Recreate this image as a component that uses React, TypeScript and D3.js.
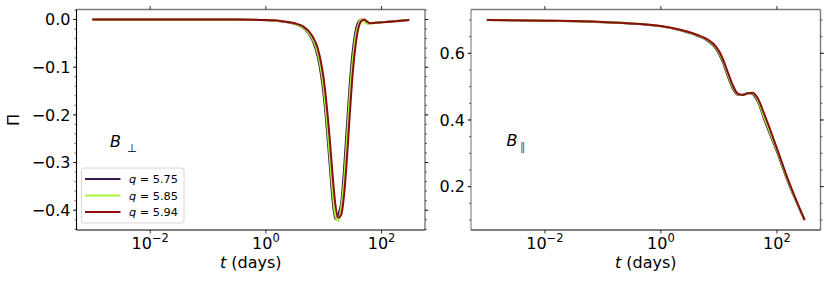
import React from "react";
import * as d3 from "d3";

// ---------- DATA ----------
const seriesLabels = ["q = 5.75", "q = 5.85", "q = 5.94"];
const seriesQ = ["5.75", "5.85", "5.94"];
const seriesColors = ["#3a1c48", "#a9f23a", "#8b0c0c"];

// Left panel: B_perp
const tPerp = [0.001, 0.01, 0.1, 0.316, 1, 1.78, 3.16, 4.47, 6.31, 7.94, 10, 12.6, 14.1, 15.8, 17.8, 20, 22.4, 25.1, 28.2, 31.6, 35.5, 39.8, 44.7, 50.1, 56.2, 63.1, 79.4, 100, 158, 300];
const perpQ575 = [0, 0, 0, -0.0002, -0.0014, -0.0035, -0.0095, -0.018, -0.042, -0.08, -0.16, -0.3, -0.375, -0.418, -0.408, -0.385, -0.315, -0.225, -0.135, -0.068, -0.024, -0.005, 0.0, -0.003, -0.008, -0.0075, -0.0068, -0.0058, -0.0038, -0.001];
const perpQ585 = [0, 0, 0, -0.0002, -0.0013, -0.0033, -0.009, -0.017, -0.039, -0.072, -0.145, -0.28, -0.355, -0.41, -0.423, -0.395, -0.34, -0.255, -0.16, -0.088, -0.036, -0.01, 0.0, -0.004, -0.009, -0.008, -0.007, -0.006, -0.004, -0.001];
const perpQ594 = [0, 0, 0, -0.0002, -0.0012, -0.003, -0.008, -0.015, -0.034, -0.062, -0.125, -0.245, -0.32, -0.385, -0.416, -0.41, -0.37, -0.295, -0.2, -0.115, -0.055, -0.018, -0.003, 0.0, -0.004, -0.008, -0.007, -0.006, -0.004, -0.001];

// Right panel: B_parallel
const tPar = [0.001, 0.01, 0.1, 1, 2.24, 4.27, 6.31, 8.91, 11.6, 14.1, 17.3, 20.9, 25.7, 31.6, 38, 46.8, 60.3, 100, 155, 300];
const parQ575 = [0.7, 0.698, 0.693, 0.681, 0.668, 0.652, 0.638, 0.613, 0.575, 0.533, 0.495, 0.476, 0.476, 0.481, 0.478, 0.455, 0.402, 0.305, 0.214, 0.1];
const parQ585 = [0.7, 0.698, 0.6935, 0.6815, 0.669, 0.6535, 0.64, 0.617, 0.58, 0.539, 0.5, 0.478, 0.475, 0.48, 0.48, 0.46, 0.408, 0.31, 0.218, 0.1];
const parQ594 = [0.7, 0.698, 0.694, 0.682, 0.67, 0.655, 0.642, 0.62, 0.585, 0.545, 0.505, 0.48, 0.475, 0.48, 0.482, 0.465, 0.418, 0.315, 0.222, 0.1];

const xTickExps = [-2, 0, 2];
const perpYTicks = [0, -0.1, -0.2, -0.3, -0.4];
const parYTicks = [0.2, 0.4, 0.6];

const FONT = "DejaVu Sans, sans-serif";

type PanelProps = {
  left: number;
  right: number;
  top: number;
  bottom: number;
  yDomain: [number, number];
  t: number[];
  series: number[][];
  yTicks: number[];
  minorStep: number;
  yFmt: (v: number) => string;
  leftSpineColor: string;
  children?: React.ReactNode;
};

function fmtMinus(s: string) {
  return s.replace("-", "\u2212");
}

function Panel(p: PanelProps) {
  const x = d3.scaleLog().domain([Math.pow(10, -3.274), Math.pow(10, 2.751)]).range([p.left, p.right]);
  const y = d3.scaleLinear().domain(p.yDomain).range([p.bottom, p.top]);
  const [y0, y1] = p.yDomain;
  const minor: number[] = [];
  const start = Math.ceil(Math.min(y0, y1) / p.minorStep - 1e-9);
  const end = Math.floor(Math.max(y0, y1) / p.minorStep + 1e-9);
  for (let i = start; i <= end; i++) minor.push(+(i * p.minorStep).toFixed(6));
  const line = d3
    .line<number>()
    .x((_, i) => x(p.t[i]))
    .y((d) => y(d))
    .curve(d3.curveMonotoneX);
  const gray = "#7a7a7a";
  return (
    <g>
      <rect x={p.left} y={p.top} width={p.right - p.left} height={p.bottom - p.top} fill="white" />
      {p.series.map((s, i) => (
        <path key={i} d={line(s) || ""} fill="none" stroke={seriesColors[i]} strokeWidth={2} strokeLinejoin="round" />
      ))}
      {/* spines */}
      <line x1={p.left} x2={p.right} y1={p.top} y2={p.top} stroke={gray} strokeWidth={1.4} />
      <line x1={p.right} x2={p.right} y1={p.top} y2={p.bottom} stroke={gray} strokeWidth={1.4} />
      <line x1={p.left} x2={p.left} y1={p.top} y2={p.bottom} stroke={p.leftSpineColor} strokeWidth={1.1} />
      <line x1={p.left} x2={p.right} y1={p.bottom} y2={p.bottom} stroke="#000" strokeWidth={1.1} />
      {/* y minor ticks */}
      {minor.map((v) => (
        <g key={"m" + v}>
          <line x1={p.left - 2} x2={p.left} y1={y(v)} y2={y(v)} stroke="#000" strokeWidth={0.6} />
          <line x1={p.right} x2={p.right + 2} y1={y(v)} y2={y(v)} stroke="#000" strokeWidth={0.6} />
        </g>
      ))}
      {/* y major ticks */}
      {p.yTicks.map((v) => (
        <g key={"M" + v}>
          <line x1={p.left - 3.5} x2={p.left} y1={y(v)} y2={y(v)} stroke="#000" strokeWidth={0.8} />
          <line x1={p.right} x2={p.right + 3.5} y1={y(v)} y2={y(v)} stroke="#000" strokeWidth={0.8} />
          <text x={p.left - 6} y={y(v) + 5.8} textAnchor="end" fontSize={16} fontFamily={FONT} fill="#000">
            {p.yFmt(v)}
          </text>
        </g>
      ))}
      {/* x ticks */}
      {xTickExps.map((e) => (
        <g key={"x" + e}>
          <line x1={x(Math.pow(10, e))} x2={x(Math.pow(10, e))} y1={p.bottom} y2={p.bottom + 3.5} stroke="#000" strokeWidth={0.8} />
          <line x1={x(Math.pow(10, e))} x2={x(Math.pow(10, e))} y1={p.top - 3.5} y2={p.top} stroke="#000" strokeWidth={0.8} />
          <text x={x(Math.pow(10, e))} y={249} textAnchor="middle" fontSize={16} fontFamily={FONT} fill="#000">
            <tspan>10</tspan>
            <tspan dy={-7} fontSize={11.5}>{fmtMinus(String(e))}</tspan>
          </text>
        </g>
      ))}
      <text x={(p.left + p.right) / 2} y={268} textAnchor="middle" fontSize={16} fontFamily={FONT} fill="#000">
        <tspan fontStyle="italic">t</tspan>
        <tspan> (days)</tspan>
      </text>
      {p.children}
    </g>
  );
}

export default function App() {
  const top = 9.5;
  const bottom = 230;
  return (
    <svg
      width={831}
      height={282}
      viewBox="0 0 831 282"
      style={{ position: "absolute", left: 0, top: 0, background: "white" }}
    >
      <rect x={0} y={0} width={831} height={282} fill="white" />
      <Panel
        left={76.5}
        right={425}
        top={top}
        bottom={bottom}
        yDomain={[-0.4415, 0.021]}
        t={tPerp}
        series={[perpQ575, perpQ585, perpQ594]}
        yTicks={perpYTicks}
        minorStep={0.02}
        yFmt={(v) => fmtMinus(v.toFixed(1))}
        leftSpineColor="#000"
      >
        <text x={14} y={120} transform="rotate(-90 14 120)" textAnchor="middle" dominantBaseline="middle" fontSize={16} fontFamily={FONT}>
          Π
        </text>
        <text x={110} y={147} fontSize={16} fontFamily={FONT} fontStyle="italic">B</text>
        <text x={127} y={152} fontSize={11.5} fontFamily={FONT}>⊥</text>
        {/* legend */}
        <rect x={81.5} y={168} width={102.5} height={55} rx={2.5} fill="white" fillOpacity={0.85} stroke="#cccccc" strokeWidth={0.8} />
        {seriesLabels.map((lab, i) => (
          <g key={lab}>
            <line x1={85} x2={120.5} y1={179 + i * 16.5} y2={179 + i * 16.5} stroke={seriesColors[i]} strokeWidth={2} />
            <text x={129} y={183 + i * 16.5} fontSize={11.3} fontFamily={FONT} fill="#000">
              <tspan fontStyle="italic">q</tspan>
              <tspan>{" = " + seriesQ[i]}</tspan>
            </text>
          </g>
        ))}
      </Panel>
      <Panel
        left={471}
        right={820.5}
        top={top}
        bottom={bottom}
        yDomain={[0.07, 0.7314]}
        t={tPar}
        series={[parQ575, parQ585, parQ594]}
        yTicks={parYTicks}
        minorStep={0.05}
        yFmt={(v) => v.toFixed(1)}
        leftSpineColor="#7a7a7a"
      >
        <text x={506.5} y={146} fontSize={16} fontFamily={FONT} fontStyle="italic">B</text>
        <text x={520} y={151} fontSize={11.5} fontFamily={FONT} fill="#555">∥</text>
      </Panel>
    </svg>
  );
}
